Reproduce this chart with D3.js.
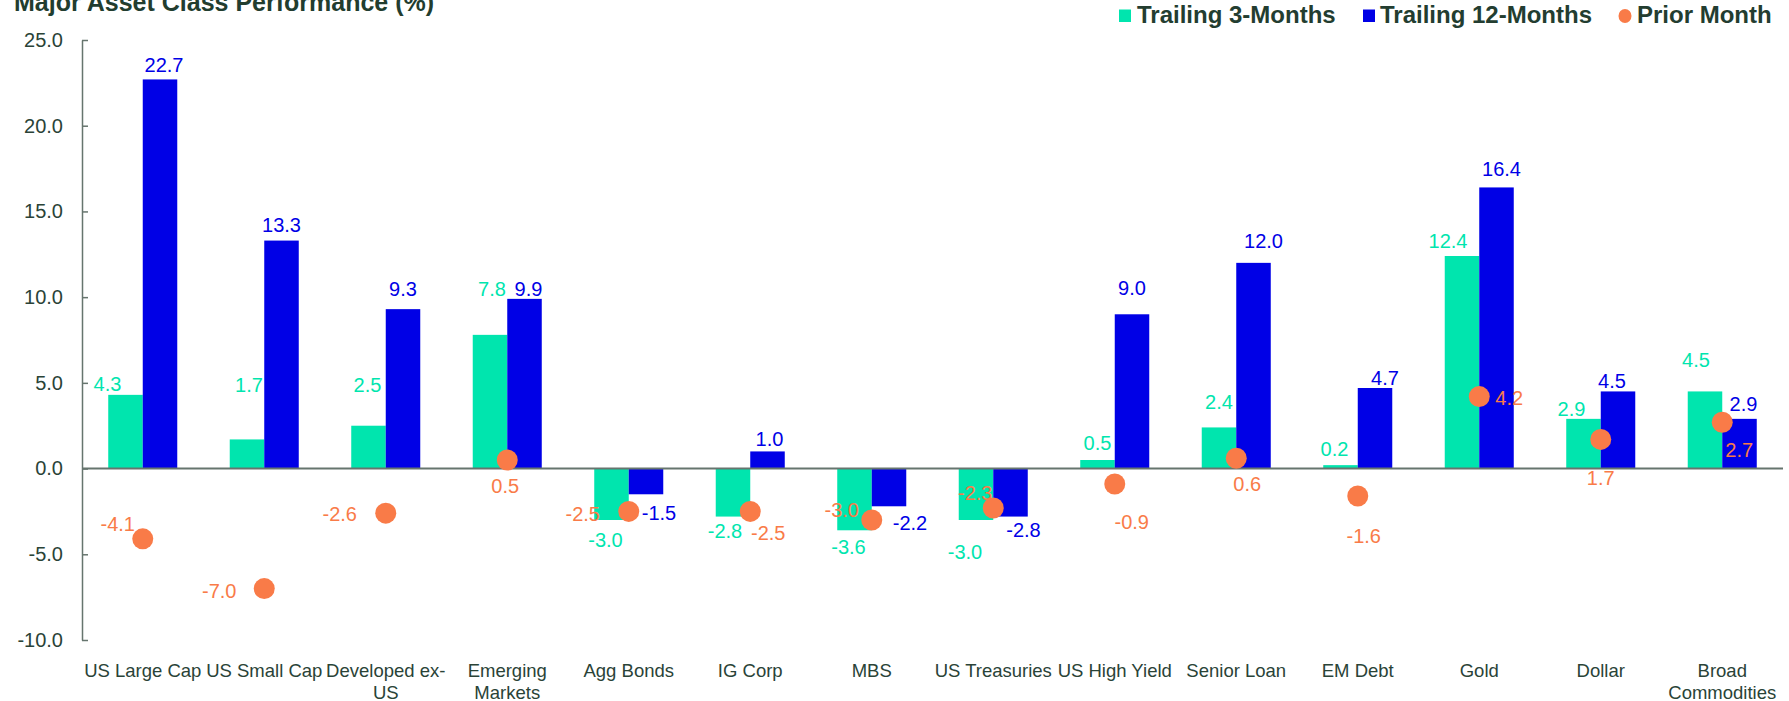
<!DOCTYPE html>
<html>
<head>
<meta charset="utf-8">
<script src="https://cdn.jsdelivr.net/npm/d3@7"></script>
<style>
  html, body { margin: 0; padding: 0; background: #ffffff; }
  svg { display: block; font-family: "Liberation Sans", Arial, sans-serif; }
</style>
</head>
<body>
<svg id="chart" width="1789" height="701"></svg>
<script>
// ---------------- data ----------------
const categories = ["US Large Cap", "US Small Cap", "Developed ex-US", "Emerging Markets",
  "Agg Bonds", "IG Corp", "MBS", "US Treasuries", "US High Yield", "Senior Loan",
  "EM Debt", "Gold", "Dollar", "Broad Commodities"];
const trailing3M  = [4.3, 1.7, 2.5, 7.8, -3.0, -2.8, -3.6, -3.0, 0.5, 2.4, 0.2, 12.4, 2.9, 4.5];
const trailing12M = [22.7, 13.3, 9.3, 9.9, -1.5, 1.0, -2.2, -2.8, 9.0, 12.0, 4.7, 16.4, 4.5, 2.9];
const priorMonth  = [-4.1, -7.0, -2.6, 0.5, -2.5, -2.5, -3.0, -2.3, -0.9, 0.6, -1.6, 4.2, 1.7, 2.7];
const yTicks = [-10, -5, 0, 5, 10, 15, 20, 25];
const seriesNames = ["Trailing 3-Months", "Trailing 12-Months", "Prior Month"];
const titleText = "Major Asset Class Performance (%)";

// ---------------- layout / style (label nudges as in the source chart) ----------------
const off3M  = [[-18,-11],[2,-55],[-1,-41],[2,-46],[-6,20],[-8,14],[-6,17],[-11,32],[0,-17],[0,-26],[-6,-16],[-14,-15],[-12,-10],[-9,-32]];
const off12M = [[4,-15],[0,-16],[0,-20],[4,-10],[13,19],[2,-13],[21,17],[13,13],[0,-26],[10,-22],[10,-10],[5,-19],[-6,-11],[4,-15]];
const offPM  = [[-25,-15],[-45,2],[-46,1],[-2,26],[-46,2],[18,21],[-30,-10],[-18,-15],[17,38],[11,26],[6,40],[30,1],[0,38],[17,28]];

const colors = { t3: "#00E5AE", t12: "#0000E6", pm: "#F97B48", text: "#2A4337", axis: "#66756E" };

const svg = d3.select("#chart");
const plot = { left: 82, right: 1783, top: 40, bottom: 640 };

const x = d3.scaleBand().domain(d3.range(categories.length))
  .range([plot.left, plot.right]).paddingInner(0.432).paddingOuter(0.216);
const xs = d3.scaleBand().domain(["t3", "t12"]).range([0, x.bandwidth()]);
const y = d3.scaleLinear().domain([-10, 25]).range([plot.bottom, plot.top]);
const cx = i => x(i) + x.bandwidth() / 2;
const f1 = d3.format(".1f");
const fmt = d => f1(d).replace("\u2212", "-");

// ---------------- title ----------------
svg.append("text").attr("x", 14).attr("y", 11)
  .attr("font-size", 25).attr("font-weight", "bold").attr("fill", "#223D2F")
  .text(titleText);

// ---------------- legend ----------------
const lg = svg.append("g").attr("font-size", 24).attr("font-weight", "bold").attr("fill", "#233D30");
lg.append("rect").attr("x", 1119).attr("y", 9.5).attr("width", 12).attr("height", 12.5).attr("fill", colors.t3);
lg.append("text").attr("x", 1137).attr("y", 23).text(seriesNames[0]);
lg.append("rect").attr("x", 1363).attr("y", 9.5).attr("width", 12).attr("height", 12.5).attr("fill", colors.t12);
lg.append("text").attr("x", 1380).attr("y", 23).text(seriesNames[1]);
lg.append("ellipse").attr("cx", 1625).attr("cy", 16).attr("rx", 6.5).attr("ry", 7).attr("fill", colors.pm);
lg.append("text").attr("x", 1637).attr("y", 23).text(seriesNames[2]);

// ---------------- bars ----------------
const barG = svg.append("g");
function bars(vals, key, color) {
  barG.selectAll(null).data(vals).enter().append("rect")
    .attr("x", (d, i) => x(i) + xs(key))
    .attr("width", xs.bandwidth())
    .attr("y", d => Math.min(y(d), y(0)))
    .attr("height", d => Math.abs(y(d) - y(0)))
    .attr("fill", color);
}
bars(trailing3M, "t3", colors.t3);
bars(trailing12M, "t12", colors.t12);

// ---------------- axes ----------------
const yAxis = d3.axisLeft(y).tickValues(yTicks).tickFormat(fmt)
  .tickSizeInner(-6).tickSizeOuter(0).tickPadding(19);
const yg = svg.append("g").attr("transform", `translate(${plot.left},0)`).call(yAxis);
yg.select(".domain").attr("stroke", colors.axis).attr("stroke-width", 1.5);
yg.selectAll(".tick line").attr("stroke", colors.axis).attr("stroke-width", 1.5);
yg.selectAll(".tick text").attr("font-size", 20).attr("fill", colors.text)
  .attr("font-family", "Liberation Sans, Arial, sans-serif");

svg.append("line").attr("x1", plot.left).attr("x2", plot.right)
  .attr("y1", y(0)).attr("y2", y(0)).attr("stroke", colors.axis).attr("stroke-width", 2);

// category labels (wrapped to the band step)
const catG = svg.append("g").attr("font-size", 18.5).attr("fill", colors.text).attr("text-anchor", "middle");
const maxW = x.step();
categories.forEach((name, i) => {
  const t = catG.append("text").attr("x", cx(i)).attr("y", 677);
  const tokens = [];
  name.split(" ").forEach((w, wi) => {
    const parts = w.split(/(?<=-)/);
    parts.forEach((p, pi) => tokens.push({ s: p, space: wi > 0 && pi === 0 }));
  });
  let lines = [], cur = "";
  const probe = catG.append("text").attr("visibility", "hidden");
  tokens.forEach(tk => {
    const cand = cur === "" ? tk.s : cur + (tk.space ? " " : "") + tk.s;
    probe.text(cand);
    if (cur !== "" && probe.node().getComputedTextLength() > maxW) { lines.push(cur); cur = tk.s; }
    else cur = cand;
  });
  lines.push(cur);
  probe.remove();
  lines.forEach((ln, li) => t.append("tspan").attr("x", cx(i)).attr("dy", li === 0 ? 0 : 22).text(ln));
});

// ---------------- prior month dots ----------------
svg.append("g").selectAll("circle").data(priorMonth).enter().append("circle")
  .attr("cx", (d, i) => cx(i)).attr("cy", d => y(d)).attr("r", 10.5).attr("fill", colors.pm);

// ---------------- value labels ----------------
const labG = svg.append("g").attr("font-size", 20).attr("text-anchor", "middle");
function labels(vals, offs, xf, color) {
  labG.selectAll(null).data(vals).enter().append("text")
    .attr("x", (d, i) => xf(i) + offs[i][0])
    .attr("y", (d, i) => y(d) + offs[i][1])
    .attr("dy", "0.36em")
    .attr("fill", color)
    .text(d => fmt(d));
}
labels(trailing3M, off3M, i => x(i) + xs("t3") + xs.bandwidth() / 2, colors.t3);
labels(trailing12M, off12M, i => x(i) + xs("t12") + xs.bandwidth() / 2, colors.t12);
labels(priorMonth, offPM, cx, colors.pm);
</script>
</body>
</html>
